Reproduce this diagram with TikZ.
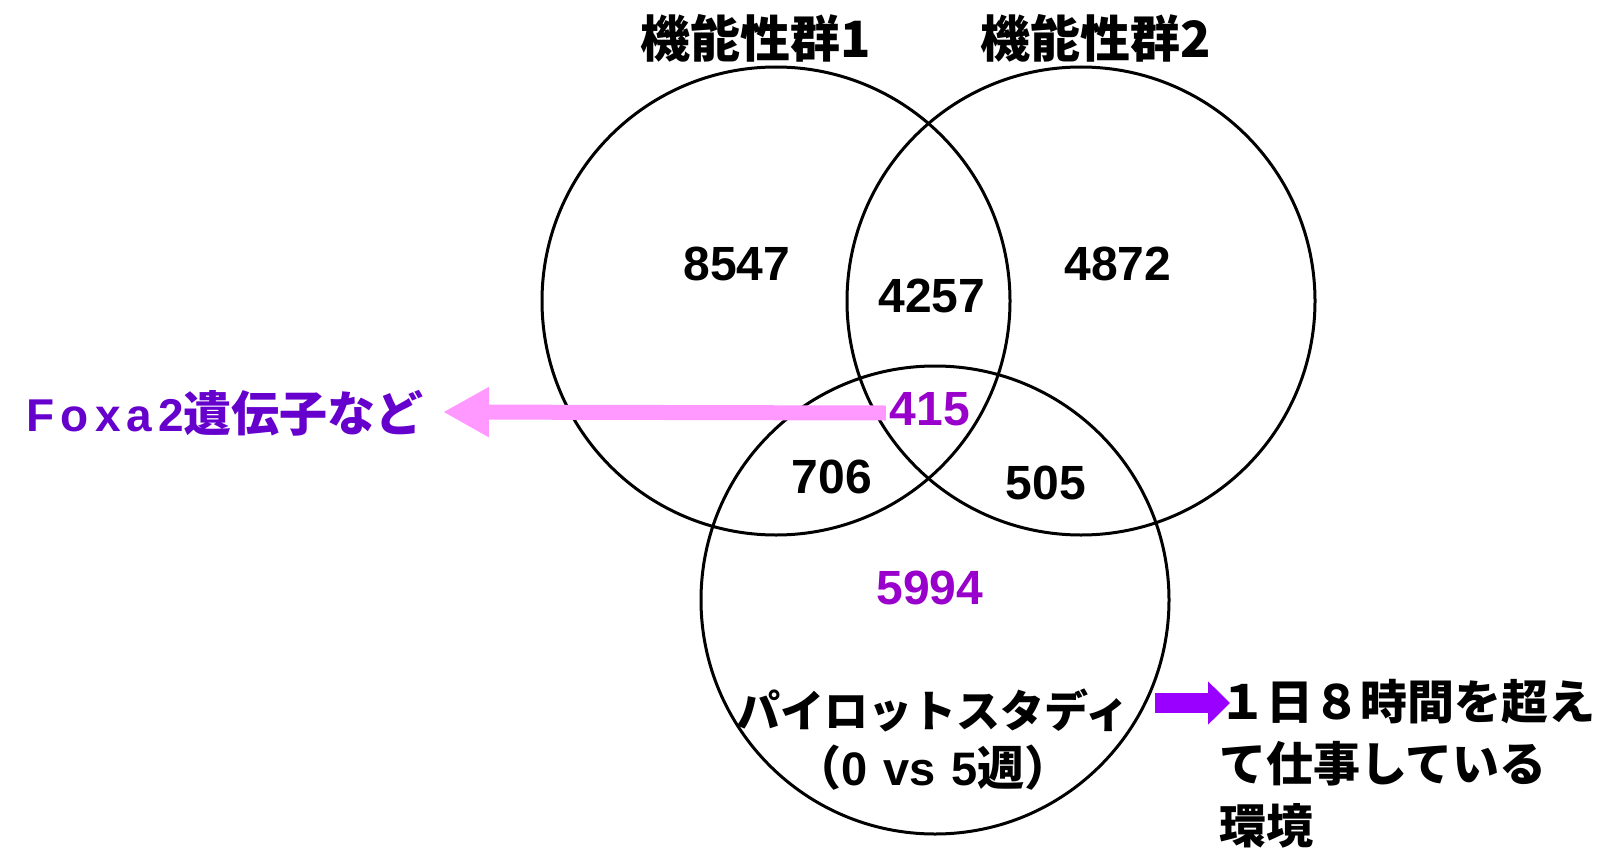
\documentclass[tikz,border=0pt]{standalone}
\usepackage{fontspec}
\newfontfamily\jp{Noto Sans CJK JP}
\newfontfamily\num{Liberation Sans}
\newfontfamily\foxafont{Liberation Sans}[LetterSpace=13]
\usetikzlibrary{arrows.meta}
\definecolor{numpurple}{HTML}{9900CC}
\definecolor{foxapurple}{HTML}{6600CC}
\definecolor{pinkarrow}{HTML}{FF99FF}
\definecolor{violetarrow}{HTML}{9900FF}
\begin{document}
\begin{tikzpicture}[x=1pt,y=-1pt,
  venn/.style={draw=black,line width=3pt,circle,minimum size=468pt,inner sep=0pt},
  title/.style={font=\jp\bfseries\fontsize{50}{60}\selectfont,inner sep=0pt},
  count/.style={font=\num\bfseries\fontsize{48}{56}\selectfont,inner sep=0pt},
  jtext/.style={font=\jp\bfseries\fontsize{44}{58}\selectfont,inner sep=0pt,align=center},
  rtext/.style={font=\jp\bfseries\fontsize{47}{62}\selectfont,inner sep=0pt,align=left},
]
\useasboundingbox (0,0) rectangle (1615,851);
\node[venn] (c1) at (776,301) {};
\node[venn] (c2) at (1081,301) {};
\node[venn] (c3) at (935,600) {};
\node[title] (t1) at (756,38) {機能性群1};
\node[title] (t2) at (1096,38) {機能性群2};
\node[count] (n8547) at (737,264) {8547};
\node[count] (n4257) at (932,296) {4257};
\node[count] (n4872) at (1118,264) {4872};
\node[count,text=numpurple] (n415) at (930,409) {415};
\node[count] (n706) at (832,477) {706};
\node[count] (n505) at (1046,483) {505};
\node[count,text=numpurple] (n5994) at (930,588) {5994};
\node[jtext] (pilot) at (933,740) {パイロットスタディ\\{\fontsize{47}{58}\selectfont（{\num\bfseries 0\hspace{3pt} vs\hspace{3pt} 5}週）}};
\node[font=\jp\bfseries\fontsize{48}{56}\selectfont,inner sep=0pt,text=foxapurple,anchor=east] (foxa) at (424,413) {{\foxafont\bfseries\fontsize{46}{56}\selectfont Foxa2}遺伝子など};
\node[rtext,anchor=north west] (env) at (1219,679) {１日８時間を超え\\て仕事している\\環境};
\draw[pinkarrow,line width=15pt,-{Triangle[width=47pt,length=46pt]}] ([xshift=-4pt,yshift=-4pt]n415.west) -- ([xshift=19pt,yshift=1pt]foxa.east);
\coordinate (pa) at (1155,703);
\coordinate (pb) at (1230,703);
\draw[violetarrow,line width=20pt,-{Triangle[width=42pt,length=22pt]}] (pa) -- (pb);
\end{tikzpicture}
\end{document}
